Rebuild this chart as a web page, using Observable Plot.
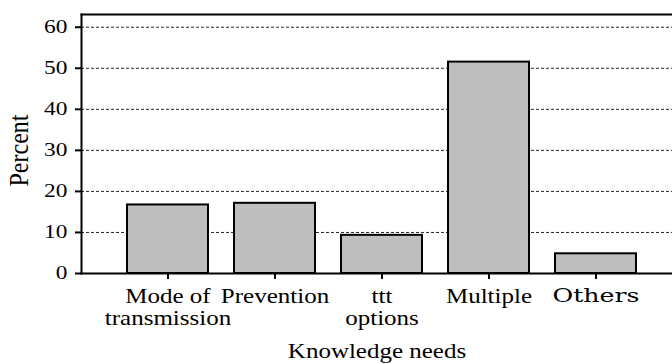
<!DOCTYPE html>
<html><head><meta charset="utf-8">
<script src="https://cdn.jsdelivr.net/npm/d3@7"></script>
<script src="https://cdn.jsdelivr.net/npm/@observablehq/plot@0.6"></script>
<style>body{margin:0;background:#fff}</style>
</head><body><div id="chart"></div>
<script>
const categories = ["Mode of transmission", "Prevention", "ttt options", "Multiple", "Others"];
const tickLabels = ["Mode of\ntransmission", "Prevention", "ttt\noptions", "Multiple", "Others"];
const percents = [16.7, 17.1, 9.3, 51.5, 4.8];
const yTicks = [0, 10, 20, 30, 40, 50, 60];
const xTitle = "Knowledge needs";
const yTitle = "Percent";

const data = categories.map((c, i) => ({category: c, percent: percents[i]}));

const plot = Plot.plot({
  width: 672, height: 364,
  marginLeft: 81, marginRight: 0, marginTop: 14, marginBottom: 91,
  style: {fontFamily: "'Liberation Serif', 'Times New Roman', serif", fontSize: "21px", color: "#000", background: "#fff", overflow: "visible"},
  x: {domain: categories, range: [126, 636], paddingInner: 0.245, paddingOuter: 0, label: null},
  y: {domain: [0, 63.1], label: null},
  marks: [
    Plot.gridY(yTicks.slice(1), {stroke: "#000", strokeOpacity: 0.85, strokeDasharray: "3,2", strokeWidth: 1}),
    Plot.barY(data, {x: "category", y: "percent", fill: "#bebebe", stroke: "#000", strokeWidth: 2}),
    Plot.frame({anchor: "top", strokeWidth: 2}),
    Plot.frame({anchor: "left", strokeWidth: 2}),
    Plot.frame({anchor: "bottom", strokeWidth: 2}),
    Plot.axisY(yTicks, {tickSize: 6, tickPadding: 8, strokeWidth: 2, fontSize: 18, label: null}),
    Plot.axisX({tickSize: 6, tickPadding: 8, strokeWidth: 2, fontSize: 21, label: null, lineHeight: 1.05,
      tickFormat: d => tickLabels[categories.indexOf(d)]}),
    Plot.text([xTitle], {frameAnchor: "bottom", dy: 84, lineAnchor: "bottom", fontSize: 21}),
    Plot.text([yTitle], {frameAnchor: "left", textAnchor: "middle", dx: -62, dy: 6.5, rotate: -90, fontSize: 24})
  ]
});

// the source image is horizontally stretched: widen the glyphs to match
plot.querySelectorAll("text").forEach(t => {
  const tr = t.getAttribute("transform") || "";
  const txt = t.textContent.trim();
  if (tr.includes("rotate")) {
    t.setAttribute("transform", tr + " scale(1,1.13)");
  } else if (txt === "Others") {
    t.style.fontFamily = "'DejaVu Serif', serif";
    t.style.fontSize = "19px";
    t.setAttribute("transform", tr + " scale(1.33,1)");
  } else if (/^\d+$/.test(txt)) {
    t.setAttribute("transform", tr + " scale(1.3,1)");
  } else {
    t.setAttribute("transform", tr + " scale(1.19,1)");
  }
});

document.getElementById("chart").appendChild(plot);
</script>
</body></html>
